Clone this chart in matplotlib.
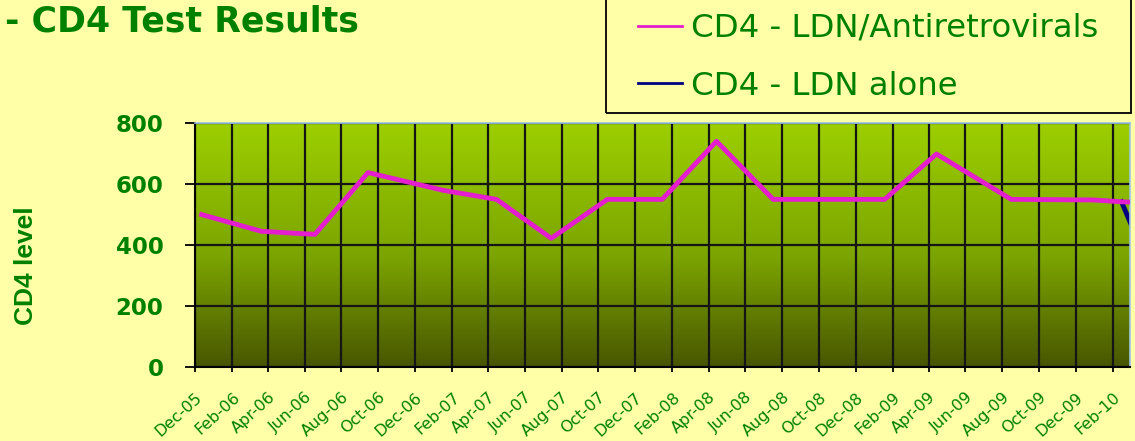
import matplotlib
matplotlib.use('Agg')
import matplotlib.pyplot as plt
from matplotlib.colors import LinearSegmentedColormap
from matplotlib.patches import Rectangle
import numpy as np
import pandas as pd

# ---------------- data ----------------
dates_art = ['2005-12-12', '2006-03-21', '2006-06-18', '2006-09-14', '2007-01-16',
             '2007-04-15', '2007-07-15', '2007-10-16', '2008-01-15', '2008-04-14',
             '2008-07-17', '2008-10-15', '2009-01-18', '2009-04-14', '2009-08-16',
             '2009-12-30', '2010-02-15', '2010-03-15']
cd4_art = [500, 445, 435, 638, 580, 550, 422, 550, 550, 741,
           550, 550, 550, 699, 550, 548, 542, 540]

dates_ldn = ['2010-02-15', '2010-03-15']
cd4_ldn = [542, 410]

tick_dates = pd.date_range('2005-12-01', '2010-02-01', freq='2MS')
tick_labels = ['Dec-05', 'Feb-06', 'Apr-06', 'Jun-06', 'Aug-06', 'Oct-06', 'Dec-06',
               'Feb-07', 'Apr-07', 'Jun-07', 'Aug-07', 'Oct-07', 'Dec-07', 'Feb-08',
               'Apr-08', 'Jun-08', 'Aug-08', 'Oct-08', 'Dec-08', 'Feb-09', 'Apr-09',
               'Jun-09', 'Aug-09', 'Oct-09', 'Dec-09', 'Feb-10']
y_ticks = [0, 200, 400, 600, 800]

series_names = ['CD4 - LDN/Antiretrovirals', 'CD4 - LDN alone']
title = '- CD4 Test Results'
ylabel = 'CD4 level'

# ---------------- figure ----------------
W, H = 1135, 441
BG = '#FFFFA8'
GREEN = '#008000'
fig = plt.figure(figsize=(W / 100, H / 100), dpi=100, facecolor=BG)
ax = fig.add_axes([195 / W, 1 - 366.7 / H, (1130 - 195) / W, (366.7 - 123.3) / H])

# gradient plot area
cmap = LinearSegmentedColormap.from_list('g', [(0.0, '#485600'), (0.45, '#7BA400'), (1.0, '#9CCF00')])
grad = np.linspace(0, 1, 256).reshape(-1, 1)
ax.imshow(grad, extent=[0, 1, 0, 1], transform=ax.transAxes, aspect='auto',
          cmap=cmap, origin='lower', zorder=0)

x_art = pd.to_datetime(dates_art)
x_ldn = pd.to_datetime(dates_ldn)
l1, = ax.plot(x_art, cd4_art, color='#E41ECF', lw=3.5, zorder=3)
l2, = ax.plot(x_ldn, cd4_ldn, color='#000080', lw=3.5, zorder=2.5)

ax.set_xlim(pd.Timestamp('2005-12-01'), pd.Timestamp('2010-03-01'))
ax.set_ylim(0, 800)
ax.set_yticks(y_ticks)
ax.set_xticks(tick_dates)
ax.set_xticklabels(tick_labels)

ax.set_axisbelow(True)
ax.grid(True, color='#151515', lw=1.6)

for s in ['left', 'bottom']:
    ax.spines[s].set_color('black')
    ax.spines[s].set_linewidth(1.5)
for s in ['top', 'right']:
    ax.spines[s].set_color('#9DC3E6')
    ax.spines[s].set_linewidth(1.2)

ax.tick_params(axis='y', direction='out', length=7.2, width=1.3, color='black', pad=15.5,
               labelsize=16.5, labelcolor=GREEN)
ax.tick_params(axis='x', direction='out', length=3.6, width=1.3, color='black', pad=13,
               labelsize=11.5, labelcolor=GREEN)
for t in ax.get_yticklabels():
    t.set_fontfamily('DejaVu Sans')
    t.set_fontweight('bold')
for t in ax.get_xticklabels():
    t.set_fontfamily('DejaVu Sans')
    t.set_rotation(42)
    t.set_rotation_mode('anchor')
    t.set_ha('right')
    t.set_va('top')

# title and y label
fig.text(5 / W, 1 - 31.5 / H, title, color=GREEN, fontsize=25, fontweight='bold',
         family='DejaVu Sans', ha='left', va='baseline')
fig.text(26 / W, 1 - 266 / H, ylabel, color=GREEN, fontsize=19, fontweight='bold',
         family='Liberation Sans', rotation=90, ha='center', va='center')

# legend
leg = fig.legend(handles=[l1, l2], labels=series_names, loc='upper left',
                 bbox_to_anchor=(638 / W, 1 - 13 / H), frameon=False, borderpad=0,
                 borderaxespad=0, handlelength=1.35, handletextpad=0.3, labelspacing=0.82,
                 prop={'family': 'DejaVu Sans', 'size': 23.3}, labelcolor=GREEN)
for h in leg.legend_handles:
    h.set_linewidth(2)
fig.add_artist(Rectangle((606 / W, 1 - 113 / H), (1131 - 606) / W, 130 / H,
                         transform=fig.transFigure, fill=False, edgecolor='black', lw=1.3))

fig.savefig('out.png', dpi=100, facecolor=BG)
